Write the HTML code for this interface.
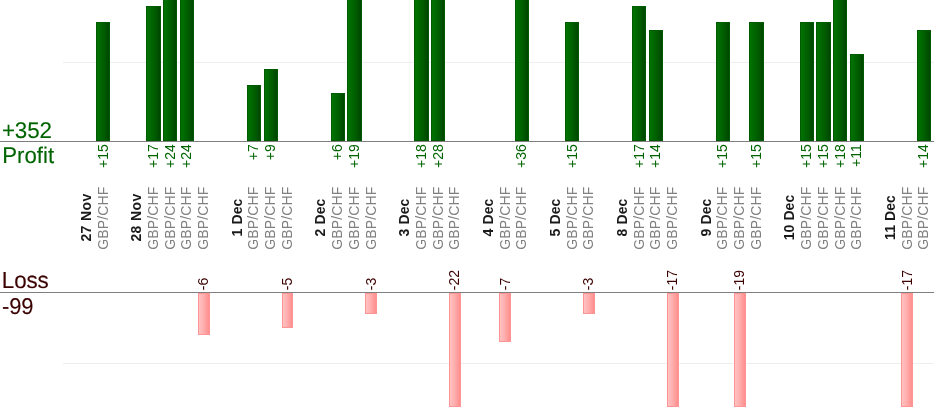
<!DOCTYPE html>
<html lang="en"><head><meta charset="utf-8"><title>Profit / Loss</title>
<style>
html,body{margin:0;padding:0;background:#fff;}
body{width:934px;height:420px;overflow:hidden;position:relative;font-family:"Liberation Sans",Arial,Helvetica,sans-serif;}
#c{position:absolute;left:0;top:0;width:934px;height:420px;overflow:hidden;background:#fff;}
#c div{position:absolute;}
.ax{left:0;width:934px;height:1px;background:#7f7f7f;}
.gl{left:63px;width:871px;height:1px;background:#eeeeee;}
.p{background:linear-gradient(to right,#007300 0%,#006800 30%,#005a00 65%,#004600 100%);box-sizing:border-box;border:1px solid #005a00;}
.l{background:linear-gradient(to right,#ffc2c2 0%,#ffacac 50%,#ff8e8e 100%);box-sizing:border-box;border:1px solid #ff9494;}
.r{left:0;top:0;transform-origin:0 0;white-space:nowrap;font-size:14px;line-height:16px;height:16px;}
.pv{color:#006400;text-align:right;width:40px;}
.lv{color:#3b0000;text-align:left;width:40px;}
.d{color:#1a1a1a;font-weight:bold;text-align:center;width:120px;letter-spacing:0.08px;}
.n{letter-spacing:0.36px;}
.s{color:#808080;text-align:center;width:120px;letter-spacing:0.13px;}
.big{font-size:22.8px;line-height:25px;white-space:nowrap;left:0;top:0;transform-origin:0 0;text-rendering:geometricPrecision;-webkit-text-stroke:0.12px currentColor;}
.g{color:#006400;}
.m{color:#3b0000;}
</style></head><body><div id="c">

<div class="gl" style="top:62px"></div>
<div class="gl" style="top:363px"></div>
<div class="p" style="left:96px;top:22px;width:14px;height:119px"></div>
<div class="p" style="left:146px;top:6px;width:15px;height:135px"></div>
<div class="p" style="left:163px;top:-4px;width:14px;height:145px"></div>
<div class="p" style="left:180px;top:-4px;width:14px;height:145px"></div>
<div class="l" style="left:198px;top:293px;width:12px;height:42px"></div>
<div class="p" style="left:247px;top:85px;width:14px;height:56px"></div>
<div class="p" style="left:264px;top:69px;width:14px;height:72px"></div>
<div class="l" style="left:282px;top:293px;width:11px;height:35px"></div>
<div class="p" style="left:331px;top:93px;width:14px;height:48px"></div>
<div class="p" style="left:347px;top:-4px;width:15px;height:145px"></div>
<div class="l" style="left:365px;top:293px;width:12px;height:21px"></div>
<div class="p" style="left:414px;top:-4px;width:15px;height:145px"></div>
<div class="p" style="left:431px;top:-4px;width:14px;height:145px"></div>
<div class="l" style="left:449px;top:293px;width:12px;height:114px"></div>
<div class="l" style="left:499px;top:293px;width:12px;height:49px"></div>
<div class="p" style="left:515px;top:-4px;width:14px;height:145px"></div>
<div class="p" style="left:565px;top:22px;width:14px;height:119px"></div>
<div class="l" style="left:583px;top:293px;width:12px;height:21px"></div>
<div class="p" style="left:632px;top:6px;width:14px;height:135px"></div>
<div class="p" style="left:649px;top:30px;width:14px;height:111px"></div>
<div class="l" style="left:667px;top:293px;width:12px;height:114px"></div>
<div class="p" style="left:716px;top:22px;width:14px;height:119px"></div>
<div class="l" style="left:734px;top:293px;width:12px;height:114px"></div>
<div class="p" style="left:749px;top:22px;width:15px;height:119px"></div>
<div class="p" style="left:800px;top:22px;width:14px;height:119px"></div>
<div class="p" style="left:816px;top:22px;width:15px;height:119px"></div>
<div class="p" style="left:833px;top:-4px;width:14px;height:145px"></div>
<div class="p" style="left:850px;top:54px;width:14px;height:87px"></div>
<div class="l" style="left:901px;top:293px;width:12px;height:114px"></div>
<div class="p" style="left:917px;top:30px;width:14px;height:111px"></div>
<div class="ax" style="top:141px"></div>
<div class="ax" style="top:292px"></div>
<div class="r d n" style="transform:translate(78.00px,277.50px) rotate(-90deg)">27 Nov</div>
<div class="r pv" style="transform:translate(95.00px,184.30px) rotate(-90deg)">+15</div>
<div class="r s" style="transform:translate(95.00px,278.10px) rotate(-90deg)">GBP/CHF</div>
<div class="r d n" style="transform:translate(128.00px,277.50px) rotate(-90deg)">28 Nov</div>
<div class="r pv" style="transform:translate(145.00px,184.30px) rotate(-90deg)">+17</div>
<div class="r s" style="transform:translate(145.00px,278.10px) rotate(-90deg)">GBP/CHF</div>
<div class="r pv" style="transform:translate(162.00px,184.30px) rotate(-90deg)">+24</div>
<div class="r s" style="transform:translate(162.00px,278.10px) rotate(-90deg)">GBP/CHF</div>
<div class="r pv" style="transform:translate(178.00px,184.30px) rotate(-90deg)">+24</div>
<div class="r s" style="transform:translate(178.00px,278.10px) rotate(-90deg)">GBP/CHF</div>
<div class="r lv" style="transform:translate(195.00px,290.20px) rotate(-90deg)">-6</div>
<div class="r s" style="transform:translate(195.00px,278.10px) rotate(-90deg)">GBP/CHF</div>
<div class="r d" style="transform:translate(229.00px,277.50px) rotate(-90deg)">1 Dec</div>
<div class="r pv" style="transform:translate(245.00px,184.30px) rotate(-90deg)">+7</div>
<div class="r s" style="transform:translate(245.00px,278.10px) rotate(-90deg)">GBP/CHF</div>
<div class="r pv" style="transform:translate(262.00px,184.30px) rotate(-90deg)">+9</div>
<div class="r s" style="transform:translate(262.00px,278.10px) rotate(-90deg)">GBP/CHF</div>
<div class="r lv" style="transform:translate(279.00px,290.20px) rotate(-90deg)">-5</div>
<div class="r s" style="transform:translate(279.00px,278.10px) rotate(-90deg)">GBP/CHF</div>
<div class="r d" style="transform:translate(312.00px,277.50px) rotate(-90deg)">2 Dec</div>
<div class="r pv" style="transform:translate(329.00px,184.30px) rotate(-90deg)">+6</div>
<div class="r s" style="transform:translate(329.00px,278.10px) rotate(-90deg)">GBP/CHF</div>
<div class="r pv" style="transform:translate(346.00px,184.30px) rotate(-90deg)">+19</div>
<div class="r s" style="transform:translate(346.00px,278.10px) rotate(-90deg)">GBP/CHF</div>
<div class="r lv" style="transform:translate(363.00px,290.20px) rotate(-90deg)">-3</div>
<div class="r s" style="transform:translate(363.00px,278.10px) rotate(-90deg)">GBP/CHF</div>
<div class="r d" style="transform:translate(396.00px,277.50px) rotate(-90deg)">3 Dec</div>
<div class="r pv" style="transform:translate(413.00px,184.30px) rotate(-90deg)">+18</div>
<div class="r s" style="transform:translate(413.00px,278.10px) rotate(-90deg)">GBP/CHF</div>
<div class="r pv" style="transform:translate(430.00px,184.30px) rotate(-90deg)">+28</div>
<div class="r s" style="transform:translate(430.00px,278.10px) rotate(-90deg)">GBP/CHF</div>
<div class="r lv" style="transform:translate(446.00px,290.20px) rotate(-90deg)">-22</div>
<div class="r s" style="transform:translate(446.00px,278.10px) rotate(-90deg)">GBP/CHF</div>
<div class="r d" style="transform:translate(480.00px,277.50px) rotate(-90deg)">4 Dec</div>
<div class="r lv" style="transform:translate(497.00px,290.20px) rotate(-90deg)">-7</div>
<div class="r s" style="transform:translate(497.00px,278.10px) rotate(-90deg)">GBP/CHF</div>
<div class="r pv" style="transform:translate(513.00px,184.30px) rotate(-90deg)">+36</div>
<div class="r s" style="transform:translate(513.00px,278.10px) rotate(-90deg)">GBP/CHF</div>
<div class="r d" style="transform:translate(547.00px,277.50px) rotate(-90deg)">5 Dec</div>
<div class="r pv" style="transform:translate(564.00px,184.30px) rotate(-90deg)">+15</div>
<div class="r s" style="transform:translate(564.00px,278.10px) rotate(-90deg)">GBP/CHF</div>
<div class="r lv" style="transform:translate(580.00px,290.20px) rotate(-90deg)">-3</div>
<div class="r s" style="transform:translate(580.00px,278.10px) rotate(-90deg)">GBP/CHF</div>
<div class="r d" style="transform:translate(614.00px,277.50px) rotate(-90deg)">8 Dec</div>
<div class="r pv" style="transform:translate(631.00px,184.30px) rotate(-90deg)">+17</div>
<div class="r s" style="transform:translate(631.00px,278.10px) rotate(-90deg)">GBP/CHF</div>
<div class="r pv" style="transform:translate(647.00px,184.30px) rotate(-90deg)">+14</div>
<div class="r s" style="transform:translate(647.00px,278.10px) rotate(-90deg)">GBP/CHF</div>
<div class="r lv" style="transform:translate(664.00px,290.20px) rotate(-90deg)">-17</div>
<div class="r s" style="transform:translate(664.00px,278.10px) rotate(-90deg)">GBP/CHF</div>
<div class="r d" style="transform:translate(698.00px,277.50px) rotate(-90deg)">9 Dec</div>
<div class="r pv" style="transform:translate(714.00px,184.30px) rotate(-90deg)">+15</div>
<div class="r s" style="transform:translate(714.00px,278.10px) rotate(-90deg)">GBP/CHF</div>
<div class="r lv" style="transform:translate(731.00px,290.20px) rotate(-90deg)">-19</div>
<div class="r s" style="transform:translate(731.00px,278.10px) rotate(-90deg)">GBP/CHF</div>
<div class="r pv" style="transform:translate(748.00px,184.30px) rotate(-90deg)">+15</div>
<div class="r s" style="transform:translate(748.00px,278.10px) rotate(-90deg)">GBP/CHF</div>
<div class="r d" style="transform:translate(781.00px,277.50px) rotate(-90deg)">10 Dec</div>
<div class="r pv" style="transform:translate(798.00px,184.30px) rotate(-90deg)">+15</div>
<div class="r s" style="transform:translate(798.00px,278.10px) rotate(-90deg)">GBP/CHF</div>
<div class="r pv" style="transform:translate(815.00px,184.30px) rotate(-90deg)">+15</div>
<div class="r s" style="transform:translate(815.00px,278.10px) rotate(-90deg)">GBP/CHF</div>
<div class="r pv" style="transform:translate(832.00px,184.30px) rotate(-90deg)">+18</div>
<div class="r s" style="transform:translate(832.00px,278.10px) rotate(-90deg)">GBP/CHF</div>
<div class="r pv" style="transform:translate(848.00px,184.30px) rotate(-90deg)">+11</div>
<div class="r s" style="transform:translate(848.00px,278.10px) rotate(-90deg)">GBP/CHF</div>
<div class="r d" style="transform:translate(882.00px,277.50px) rotate(-90deg)">11 Dec</div>
<div class="r lv" style="transform:translate(899.00px,290.20px) rotate(-90deg)">-17</div>
<div class="r s" style="transform:translate(899.00px,278.10px) rotate(-90deg)">GBP/CHF</div>
<div class="r pv" style="transform:translate(915.00px,184.30px) rotate(-90deg)">+14</div>
<div class="r s" style="transform:translate(915.00px,278.10px) rotate(-90deg)">GBP/CHF</div>
<div class="big g" style="font-size:22.7px;transform:translate(1.90px,118.00px) scale(0.9868,1);letter-spacing:-0.15px">+352</div>
<div class="big g" style="font-size:22.8px;transform:translate(2.30px,143.00px) scale(0.9737,1);letter-spacing:0px">Profit</div>
<div class="big m" style="font-size:23.1px;transform:translate(1.80px,268.00px) scale(0.9697,1);letter-spacing:-0.1px">Loss</div>
<div class="big m" style="font-size:22.8px;transform:translate(1.90px,293.60px) scale(0.9649,1);letter-spacing:-0.1px">-99</div>
</div></body></html>
